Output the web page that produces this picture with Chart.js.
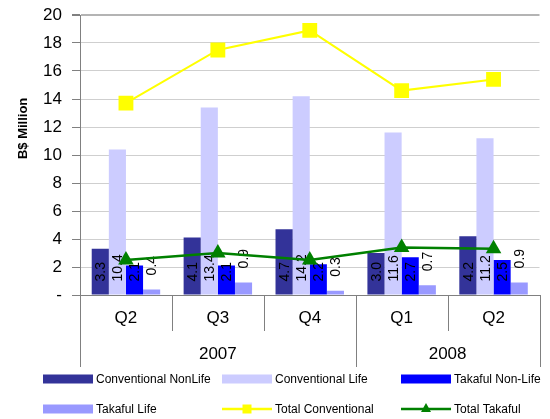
<!DOCTYPE html>
<html>
<head>
<meta charset="utf-8">
<script src="https://cdn.jsdelivr.net/npm/chart.js@4/dist/chart.umd.min.js"></script>
<style>
  body { margin: 0; background: #fff; }
  #wrap { width: 550px; height: 419px; }
</style>
</head>
<body>
<div id="wrap"><canvas id="insuranceChart"></canvas></div>
<script>
const quarters = ['Q2', 'Q3', 'Q4', 'Q1', 'Q2'];
const years = ['2007', '2008'];
const yearSpans = [3, 2];

const convNonLife = [3.3, 4.1, 4.7, 3.0, 4.2];
const convLife = [10.4, 13.4, 14.2, 11.6, 11.2];
const takafulNonLife = [2.1, 2.1, 2.2, 2.7, 2.5];
const takafulLife = [0.4, 0.9, 0.3, 0.7, 0.9];
const totalConventional = [13.7, 17.5, 18.9, 14.6, 15.4];
const totalTakaful = [2.5, 3.0, 2.5, 3.4, 3.3];

const yTicks = [0, 2, 4, 6, 8, 10, 12, 14, 16, 18, 20];

const FONT = 'Arial, "Liberation Sans", sans-serif';

// value labels on the bars, drawn right after each bar dataset so the lines sit on top
const barLabels = {
  id: 'barLabels',
  afterDatasetDraw(chart, args) {
    const ds = chart.data.datasets[args.index];
    if (ds.type !== 'bar') return;
    const ctx = chart.ctx;
    ctx.save();
    ctx.font = '14px ' + FONT;
    ctx.fillStyle = '#000';
    ctx.textAlign = 'left';
    ctx.textBaseline = 'middle';
    args.meta.data.forEach((bar, i) => {
      const h = bar.base - bar.y;
      const start = h > 20 ? bar.base - 13 : bar.y - 14;
      ctx.save();
      ctx.translate(bar.x, start);
      ctx.rotate(-Math.PI / 2);
      ctx.fillText(ds.data[i].toFixed(1), 0, 1);
      ctx.restore();
    });
    ctx.restore();
  }
};

// category separators, year row, y title and legend
const decorations = {
  id: 'decorations',
  afterDraw(chart) {
    const ctx = chart.ctx;
    const x = chart.scales.x;
    const area = chart.chartArea;
    const half = (x.getPixelForValue(1) - x.getPixelForValue(0)) / 2;
    const edges = quarters.map((q, i) => x.getPixelForValue(i) - half);
    edges.push(x.getPixelForValue(quarters.length - 1) + half);

    const yearEdges = [0];
    yearSpans.forEach(s => yearEdges.push(yearEdges[yearEdges.length - 1] + s));

    ctx.save();
    ctx.strokeStyle = '#808080';
    ctx.lineWidth = 1;
    edges.forEach((px, i) => {
      const long = yearEdges.includes(i);
      const xx = Math.min(Math.round(px) + 0.5, chart.width - 0.5);
      ctx.beginPath();
      ctx.moveTo(xx, area.bottom);
      ctx.lineTo(xx, area.bottom + (long ? 72 : 36));
      ctx.stroke();
    });

    ctx.fillStyle = '#000';
    ctx.font = '17px ' + FONT;
    ctx.textAlign = 'center';
    ctx.textBaseline = 'middle';
    years.forEach((y, i) => {
      const cx = (edges[yearEdges[i]] + edges[yearEdges[i + 1]]) / 2;
      ctx.fillText(y, cx, area.bottom + 59);
    });

    // y axis title
    ctx.save();
    ctx.translate(23, area.top + area.height * 0.405);
    ctx.rotate(-Math.PI / 2);
    ctx.font = 'bold 13px ' + FONT;
    ctx.fillText('B$ Million', 0, 0);
    ctx.restore();

    // legend: two rows of three
    const cols = [43, 222, 401];
    const rows = [379, 409];
    ctx.font = '12px ' + FONT;
    ctx.textAlign = 'left';
    chart.data.datasets.forEach((ds, i) => {
      const lx = cols[i % 3];
      const ly = rows[Math.floor(i / 3)];
      if (ds.type === 'bar') {
        ctx.fillStyle = ds.backgroundColor;
        ctx.fillRect(lx, ly - 4.5, 50, 9);
      } else {
        ctx.strokeStyle = ds.borderColor;
        ctx.lineWidth = 2.5;
        ctx.beginPath();
        ctx.moveTo(lx, ly);
        ctx.lineTo(lx + 50, ly);
        ctx.stroke();
        ctx.fillStyle = ds.pointBackgroundColor;
        ctx.beginPath();
        if (ds.pointStyle === 'rect') {
          ctx.rect(lx + 25 - 4.5, ly - 4.5, 9, 9);
        } else {
          ctx.moveTo(lx + 25, ly - 6);
          ctx.lineTo(lx + 30, ly + 3);
          ctx.lineTo(lx + 20, ly + 3);
          ctx.closePath();
        }
        ctx.fill();
      }
      ctx.fillStyle = '#000';
      ctx.fillText(ds.label, lx + 53, ly + 1);
    });
    ctx.restore();
  }
};

new Chart(document.getElementById('insuranceChart').getContext('2d'), {
  data: {
    labels: quarters,
    datasets: [
      { type: 'bar', label: 'Conventional NonLife', data: convNonLife, backgroundColor: '#333399', order: 2 },
      { type: 'bar', label: 'Conventional Life', data: convLife, backgroundColor: '#CCCCFF', order: 2 },
      { type: 'bar', label: 'Takaful Non-Life', data: takafulNonLife, backgroundColor: '#0000FF', order: 2 },
      { type: 'bar', label: 'Takaful Life', data: takafulLife, backgroundColor: '#9999FF', order: 2 },
      {
        type: 'line', label: 'Total Conventional', data: totalConventional,
        borderColor: '#FFFF00', borderWidth: 2, tension: 0,
        pointStyle: 'rect', pointRadius: 10.5, pointBackgroundColor: '#FFFF00', pointBorderColor: '#FFFF00', pointBorderWidth: 0,
        order: 1
      },
      {
        type: 'line', label: 'Total Takaful', data: totalTakaful,
        borderColor: '#008000', borderWidth: 2.5, tension: 0,
        pointStyle: 'triangle', pointRadius: 9, pointBackgroundColor: '#008000', pointBorderColor: '#008000', pointBorderWidth: 0,
        order: 1
      }
    ]
  },
  options: {
    responsive: true,
    maintainAspectRatio: false,
    animation: false,
    layout: { padding: { top: 15, left: 0, right: 0, bottom: 52 } },
    datasets: {
      bar: { barPercentage: 1, categoryPercentage: 0.745 }
    },
    plugins: {
      legend: { display: false },
      tooltip: { enabled: false }
    },
    scales: {
      x: {
        offset: true,
        grid: { drawOnChartArea: false, drawTicks: false },
        border: { color: '#808080', width: 1 },
        ticks: { font: { family: FONT, size: 17 }, color: '#000', padding: 13 },
        afterFit(scale) {
          scale.height = 72;
          scale.paddingLeft = 0;
          scale.paddingRight = 0;
        }
      },
      y: {
        min: 0,
        max: 20,
        afterBuildTicks(scale) { scale.ticks = yTicks.map(v => ({ value: v })); },
        grid: {
          color: ctx => (ctx.tick && ctx.tick.value === 20 ? '#b4b4b4' : '#cfcfcf'),
          lineWidth: ctx => (ctx.tick && ctx.tick.value === 20 ? 2 : 1),
          tickColor: '#808080',
          tickLength: 8
        },
        border: { color: '#808080', width: 1 },
        ticks: {
          font: { family: FONT, size: 17 },
          color: '#000',
          padding: 10,
          callback: v => (v === 0 ? '-' : v)
        },
        afterFit(scale) {
          scale.width = 80;
          scale.paddingTop = 0;
          scale.paddingBottom = 0;
        }
      }
    }
  },
  plugins: [barLabels, decorations]
});
</script>
</body>
</html>
